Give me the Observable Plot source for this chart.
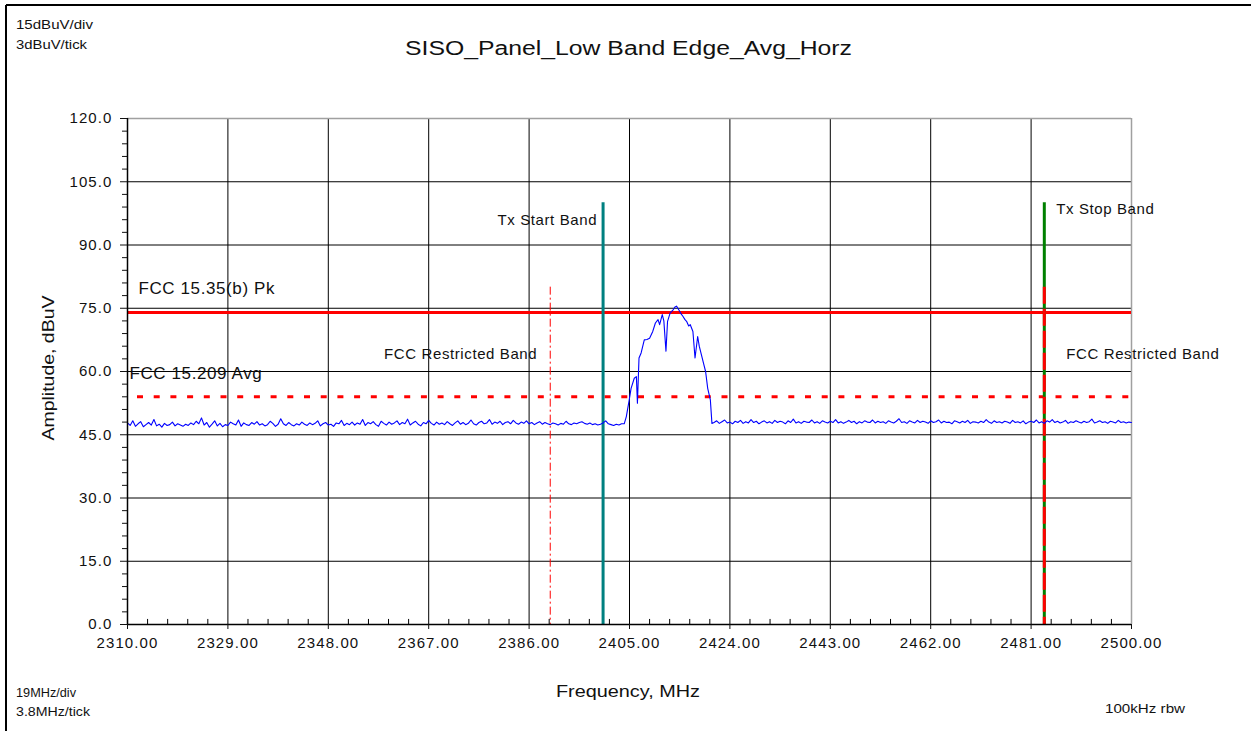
<!DOCTYPE html>
<html>
<head>
<meta charset="utf-8">
<script src="https://cdn.jsdelivr.net/npm/d3@7"></script>
<script src="https://cdn.jsdelivr.net/npm/@observablehq/plot@0.6"></script>
<style>
  html, body { margin: 0; padding: 0; background: #fff; }
  #chart svg { display: block; }
  #chart svg text { letter-spacing: 1.1px; }
  #chart svg g[aria-label="text"] text { letter-spacing: 0.6px; }
  #chart svg text.fixed { letter-spacing: 0; }
</style>
</head>
<body>
<div id="chart"></div>
<script>
// Scan: 2310–2500 MHz, average detector, horizontal polarisation
const freqStart = 2310;
const freqEnd = 2500;
const sweepStep = 0.5; // MHz between stored samples of the noise floor

// Noise floor below the transmit band, 2310.0 … 2403.5 MHz (dBuV)
const floorLow = [
  47.8,47.2,48.3,47.0,47.6,48.1,46.9,47.4,47.9,47.3,48.6,47.1,47.5,46.8,47.7,47.2,47.4,48.0,47.1,47.6,
  47.3,47.0,47.5,47.2,47.8,47.4,48.2,47.6,49.0,47.3,47.9,46.8,47.5,48.3,47.1,47.7,46.9,47.4,47.2,48.0,
  47.6,47.3,48.5,47.0,47.8,47.4,47.2,47.9,47.5,48.1,47.3,47.6,47.1,47.4,48.2,47.7,47.0,47.5,48.8,47.6,
  47.2,47.9,47.4,47.1,47.6,47.3,48.0,47.5,47.2,47.8,47.4,47.7,48.3,47.1,47.6,47.9,47.3,47.5,47.0,47.8,
  47.6,48.4,47.2,47.7,47.4,48.0,47.3,47.8,47.5,48.6,47.2,47.9,47.6,48.1,47.4,47.0,48.2,47.7,47.3,48.0,
  47.5,47.8,48.3,47.4,47.9,47.6,48.7,47.3,47.8,48.2,47.5,47.1,47.9,47.6,48.4,47.7,47.3,48.0,47.5,47.8,
  47.4,48.1,47.6,47.2,47.8,48.3,47.5,47.9,47.4,47.7,48.5,47.6,47.3,47.9,48.2,47.6,47.8,48.6,47.5,48.0,
  47.7,48.2,47.4,47.9,48.1,47.6,48.4,47.8,47.5,48.0,47.7,48.3,47.6,47.9,47.4,47.8,48.1,47.5,47.9,47.6,
  47.4,47.8,47.6,47.3,47.7,47.5,48.2,47.6,47.4,47.8,47.6,47.9,48.1,47.7,47.5,47.8,47.4,47.6,47.3,47.5,
  47.8,48.3,47.6,47.4,47.2,47.5,47.3,47.6
];

// Emission of the transmitter on the low channel (MHz, dBuV)
const signalFreq = [
  2404.0,2404.4,2404.9,2405.3,2405.9,2406.3,2406.5,2406.8,2407.2,2407.8,2408.3,2408.8,2409.4,2409.9,
  2410.4,2410.7,2411.2,2411.5,2411.9,2412.2,2412.7,2413.3,2413.6,2413.9,2414.2,2414.5,2414.8,2415.1,
  2415.5,2415.8,2416.2,2416.5,2417.0,2417.4,2417.9,2418.2,2418.6,2419.0,2419.4,2419.8,2420.3,2420.6
];
const signalAmp = [
  47.6,49.3,52.9,56.0,58.4,58.8,52.5,63.2,64.4,67.5,67.6,67.9,69.5,71.5,
  72.3,71.1,73.5,72.0,64.8,71.9,73.9,74.7,75.3,75.5,74.9,74.3,73.6,73.1,
  72.3,71.9,70.8,71.1,69.5,63.2,68.3,66.0,64.0,62.0,60.0,56.0,53.3,47.7
];

// Noise floor above the transmit band, 2421.0 … 2500.0 MHz (dBuV)
const floorHighStart = 2421;
const floorHigh = [
  47.9,48.3,47.7,48.1,48.5,47.8,48.0,47.6,48.2,47.9,48.4,47.7,48.1,47.8,48.6,47.9,48.2,47.6,48.0,48.3,
  47.8,48.1,47.7,48.4,47.9,48.2,48.0,47.6,48.3,47.9,48.7,47.8,48.1,47.7,48.2,48.0,47.9,48.5,47.8,48.1,
  47.7,48.3,48.0,47.8,48.2,47.9,48.6,47.8,48.1,47.7,48.0,48.4,47.9,48.2,47.6,48.1,47.8,48.3,48.0,47.9,
  48.5,47.8,48.2,47.9,48.1,47.7,48.3,48.0,47.8,48.2,48.8,47.9,48.1,47.7,48.3,48.0,47.8,48.4,47.9,48.2,
  48.0,47.7,48.3,47.9,48.1,48.5,47.8,48.2,47.9,48.0,47.6,48.3,48.1,47.8,48.2,47.9,48.4,47.7,48.1,48.0,
  47.8,48.2,47.9,48.6,48.0,47.7,48.3,47.9,48.1,47.8,48.2,48.0,47.7,48.4,47.9,48.1,47.8,48.3,47.6,48.0,
  48.2,47.9,48.5,47.8,48.1,47.7,48.3,48.0,48.6,47.9,48.2,47.8,48.0,48.4,47.7,48.1,47.9,48.3,48.0,47.8,
  48.2,47.9,48.1,48.7,47.8,48.0,48.3,47.9,48.1,47.7,48.2,48.0,47.8,48.4,47.9,48.1,47.8,48.0,47.9
];

// Axis ticks
const yMajor = [0, 15, 30, 45, 60, 75, 90, 105, 120];
const yMinor = d3.range(0, 121, 3).filter(v => v % 15 !== 0);
const xMajor = [2310, 2329, 2348, 2367, 2386, 2405, 2424, 2443, 2462, 2481, 2500];
const xMinor = d3.range(0, 51).map(i => +(freqStart + i * 3.8).toFixed(1)).filter((v, i) => i % 5 !== 0);

// Limits and band edges
const peakLimit = 74;
const avgLimit = 54;
const restrictedLow = 2390;
const txStart = 2400;
const txStop = 2483.5;
const restrictedHigh = 2483.5;

// Assemble the trace
const trace = [
  ...floorLow.map((a, i) => ({f: freqStart + i * sweepStep, a})),
  ...signalFreq.map((f, i) => ({f, a: signalAmp[i]})),
  ...floorHigh.map((a, i) => ({f: floorHighStart + i * sweepStep, a}))
];

// One text mark per annotation, each with its own anchor and offset
const note = (x, y, text, textAnchor, dx, fontSize) =>
  Plot.text([text], {x: () => x, y: () => y, text: d => d, textAnchor, dx, fontSize, fill: "#111"});

const chart = Plot.plot({
  width: 1251,
  height: 731,
  marginLeft: 127,
  marginRight: 120,
  marginTop: 118,
  marginBottom: 107,
  style: {fontFamily: "'Liberation Sans', Arial, sans-serif", fontSize: "15px", color: "#111", background: "#fff", overflow: "visible"},
  x: {domain: [freqStart, freqEnd]},
  y: {domain: [0, 120]},
  marks: [
    // grid
    Plot.ruleY(yMajor.filter(v => v > 0 && v < 120), {stroke: "#000", strokeWidth: 1}),
    Plot.ruleX(xMajor.filter(v => v > freqStart && v < freqEnd), {stroke: "#000", strokeWidth: 1}),
    Plot.ruleY([120], {stroke: "#a0a0a0", strokeWidth: 1.5}),
    Plot.ruleX([freqEnd], {stroke: "#a0a0a0", strokeWidth: 1.5}),
    // limit lines
    Plot.ruleY([peakLimit], {stroke: "#ff0000", strokeWidth: 3}),
    Plot.ruleY([avgLimit], {stroke: "#ff0000", strokeWidth: 3, strokeDasharray: "6,10.7", strokeDashoffset: -10}),
    // band edges
    Plot.ruleX([restrictedLow], {y1: 80, y2: 0, stroke: "#ff0000", strokeWidth: 1, strokeDasharray: "8,3,2,3"}),
    Plot.ruleX([txStart], {y1: 100, y2: 0, stroke: "#008080", strokeWidth: 3}),
    Plot.ruleX([txStop], {y1: 100, y2: 0, stroke: "#008000", strokeWidth: 3}),
    Plot.ruleX([restrictedHigh], {y1: 80, y2: 0, stroke: "#ff0000", strokeWidth: 3, strokeDasharray: "17,5"}),
    // measured trace
    Plot.line(trace, {x: "f", y: "a", stroke: "#0000ff", strokeWidth: 1.1}),
    // annotations
    note(txStart, 95.8, "Tx Start Band", "end", -6, 15),
    note(txStop, 98.4, "Tx Stop Band", "start", 12, 15),
    note(freqStart, 79.6, "FCC 15.35(b) Pk", "start", 11, 17),
    note(freqStart, 59.6, "FCC 15.209 Avg", "start", 2, 17),
    note(restrictedLow, 64.2, "FCC Restricted Band", "end", -13, 15),
    note(restrictedHigh, 64.2, "FCC Restricted Band", "start", 22, 15),
    // axes
    Plot.ruleY([0], {stroke: "#000", strokeWidth: 1.5}),
    Plot.ruleX([freqStart], {stroke: "#000", strokeWidth: 1.5}),
    Plot.axisY({ticks: yMajor, tickSize: 7, tickPadding: 8, tickFormat: d3.format(".1f"), label: null}),
    Plot.axisY({ticks: yMinor, tickSize: 5, tickFormat: () => "", label: null}),
    Plot.axisX({ticks: xMajor, tickSize: 5, tickPadding: 8, tickFormat: d3.format(".2f"), label: null}),
    Plot.ruleX(xMinor, {y1: 0, y2: 1.2, stroke: "#000", strokeWidth: 1})
  ]
});

// Page furniture: frame, title, axis titles and scale notes
const svg = d3.select(chart);
svg.append("line").attr("x1", 6).attr("x2", 6).attr("y1", 5).attr("y2", 731).attr("stroke", "#000").attr("stroke-width", 2);
svg.append("line").attr("x1", 6).attr("x2", 1251).attr("y1", 5).attr("y2", 5).attr("stroke", "#000").attr("stroke-width", 2);

const notes = [
  {text: "15dBuV/div", x: 16, y: 29, size: 13, len: 77},
  {text: "3dBuV/tick", x: 16, y: 49, size: 13, len: 71},
  {text: "SISO_Panel_Low Band Edge_Avg_Horz", x: 405, y: 55, size: 20, len: 447},
  {text: "Frequency, MHz", x: 556, y: 697, size: 16, len: 144},
  {text: "19MHz/div", x: 16, y: 697, size: 12, len: 60},
  {text: "3.8MHz/tick", x: 16, y: 716, size: 12, len: 74},
  {text: "100kHz rbw", x: 1105, y: 713, size: 12, len: 80}
];
for (const n of notes) {
  svg.append("text").attr("class", "fixed")
    .attr("x", n.x).attr("y", n.y)
    .attr("text-anchor", "start")
    .attr("font-size", n.size).attr("fill", "#111")
    .attr("textLength", n.len).attr("lengthAdjust", "spacingAndGlyphs")
    .text(n.text);
}
svg.append("text").attr("class", "fixed")
  .attr("transform", "translate(54,368) rotate(-90)")
  .attr("text-anchor", "middle")
  .attr("font-size", 16).attr("fill", "#111")
  .attr("textLength", 145).attr("lengthAdjust", "spacingAndGlyphs")
  .text("Amplitude, dBuV");

document.getElementById("chart").appendChild(chart);
</script>
</body>
</html>
